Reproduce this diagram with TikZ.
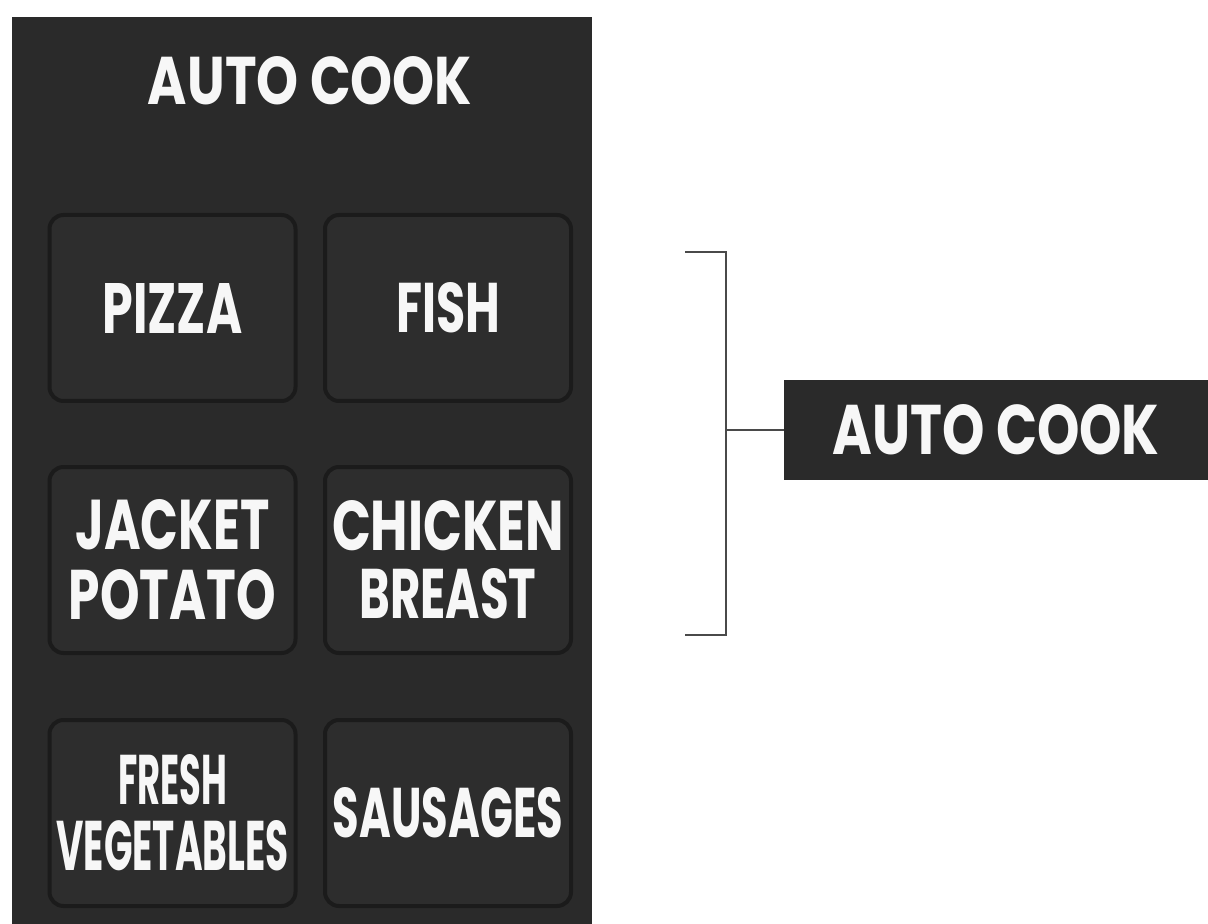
\documentclass[tikz,border=0pt]{standalone}
\usepackage{fontspec}
\setmainfont{Poppins}
\usepackage{graphicx}
\definecolor{panelc}{HTML}{2A2A2A}
\definecolor{btnfill}{HTML}{2D2D2D}
\definecolor{btnline}{HTML}{1B1B1B}
\definecolor{txtc}{HTML}{F7F7F7}
\definecolor{brkc}{HTML}{4A4A4A}
\newcommand{\fitt}[3]{\resizebox{#1}{#2}{\bfseries #3}}
\newcommand{\twofit}[5]{\vbox{\baselineskip=#5\lineskiplimit=-100pt\lineskip=0pt\halign{\hfil##\hfil\cr\fitt{#1}{25pt}{#2}\cr\fitt{#3}{25pt}{#4}\cr}}}
\tikzset{
  panelbox/.style={fill=panelc, draw=none, minimum width=290pt, minimum height=453.5pt, inner sep=0pt},
  btn/.style={fill=btnfill, draw=btnline, line width=2pt, rounded corners=7pt, minimum width=123pt, minimum height=93pt, inner sep=0pt, text=txtc},
  ttl/.style={text=txtc, inner sep=0pt},
  labelbox/.style={fill=panelc, draw=none, minimum width=212pt, minimum height=50pt, inner sep=0pt, text=txtc},
  brk/.style={draw=brkc, line width=1.2pt}
}
\begin{document}
\begin{tikzpicture}[x=0.5pt,y=-0.5pt]
\useasboundingbox (0,0) rectangle (1208,924);
\fill[white] (0,0) rectangle (1208,924);
\node[panelbox] (panel) at (302,470.5) {};
\node[ttl] (title) at (310,81) {\fitt{162pt}{24pt}{AUTO COOK}};
\node[btn] (pizza) at (172.5,308) {\fitt{70pt}{25pt}{PIZZA}};
\node[btn] (fish) at (448,308) {\fitt{52pt}{25pt}{FISH}};
\node[btn] (jacket) at (172.5,560) {\twofit{97pt}{JACKET}{103.5pt}{POTATO}{35pt}};
\node[btn] (chicken) at (448,560) {\twofit{116pt}{CHICKEN}{88.5pt}{BREAST}{34pt}};
\node[btn] (fresh) at (172.5,813) {\twofit{54.5pt}{FRESH}{116pt}{VEGETABLES}{33pt}};
\node[btn] (sausages) at (448,813) {\fitt{115pt}{25pt}{SAUSAGES}};
\node[labelbox] (label) at (996,430) {\fitt{163.5pt}{25pt}{AUTO COOK}};
\coordinate (bt) at (685,252);
\coordinate (bxtop) at (726,252);
\coordinate (bxbot) at (726,635);
\coordinate (bb) at (685,635);
\draw[brk] (bt) -- (bxtop) -- (bxbot) -- (bb);
\draw[brk] (label.west) -- (label.west -| bxtop);
\end{tikzpicture}
\end{document}
